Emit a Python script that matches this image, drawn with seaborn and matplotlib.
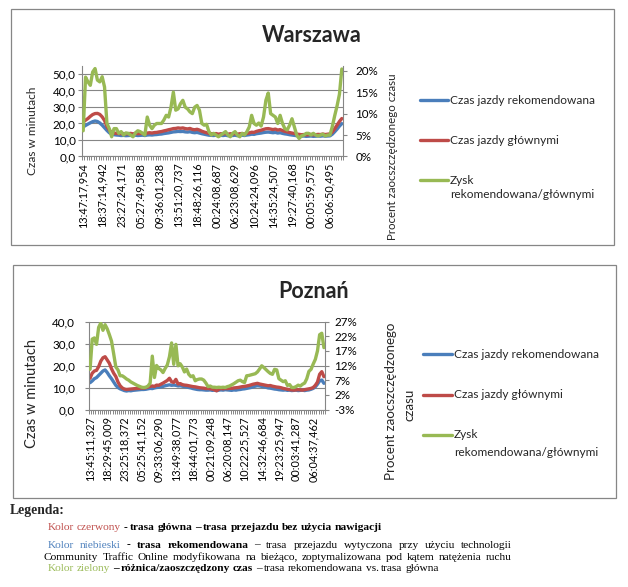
import numpy as np
import pandas as pd
import matplotlib
matplotlib.use("Agg")
import matplotlib.pyplot as plt
import seaborn as sns
from matplotlib.lines import Line2D
from matplotlib.patches import Rectangle

# ---------------- data ----------------
warsaw_labels = ["13:47:17,954", "18:37:14,942", "23:27:24,171", "05:27:49,588",
                 "09:36:01,238", "13:51:20,737", "18:48:26,116", "00:24:08,687",
                 "06:23:08,629", "10:24:24,096", "14:35:24,507", "19:27:40,168",
                 "00:05:59,575", "06:06:50,495"]
poznan_labels = ["13:45:11,327", "18:29:45,009", "23:25:18,372", "05:25:41,152",
                 "09:33:06,290", "13:49:38,077", "18:44:01,773", "00:21:09,248",
                 "06:20:08,147", "10:22:25,527", "14:32:46,684", "19:23:25,947",
                 "00:03:41,287", "06:04:37,462"]

warsaw_blue = [17.9, 18.8, 19.6, 20.4, 21.1, 21.5, 21.2, 20.3, 19.0, 17.4,
               15.8, 14.4, 13.6, 13.2, 13.0, 12.9, 12.7, 12.8, 12.6, 12.7,
               12.8, 12.6, 12.9, 12.7, 12.8, 12.9, 12.7, 13.0, 13.1, 13.0,
               13.2, 13.3, 13.5, 13.6, 13.9, 14.1, 14.3, 14.6, 14.9, 15.0,
               15.2, 15.1, 15.2, 14.9, 14.8, 15.0, 14.6, 14.4, 14.6, 14.2,
               13.8, 13.5, 13.2, 12.9, 12.8, 12.7, 12.9, 12.6, 12.8, 12.7,
               12.9, 12.6, 12.8, 12.7, 12.9, 12.6, 12.8, 12.9, 12.7, 13.0,
               13.2, 13.5, 13.4, 13.8, 14.0, 14.2, 14.5, 14.7, 14.8, 14.6,
               14.4, 14.6, 14.2, 14.4, 14.0, 13.7, 13.5, 13.2, 13.0, 12.8,
               12.6, 12.4, 12.3, 12.4, 12.2, 12.3, 12.4, 12.2, 12.3, 12.4,
               12.3, 12.5, 12.3, 12.4, 12.5, 13.5, 15.0, 16.6, 18.4, 19.9]
warsaw_red = [20.9, 22.0, 23.0, 24.3, 25.4, 26.0, 26.1, 25.5, 24.0, 21.8,
              18.2, 16.0, 14.6, 14.2, 14.0, 13.9, 13.8, 13.9, 13.7, 13.8,
              14.0, 13.7, 14.0, 13.8, 13.9, 14.0, 13.8, 14.2, 14.4, 14.2,
              14.5, 14.6, 14.9, 15.1, 15.5, 15.8, 16.2, 16.5, 16.9, 17.0,
              17.3, 17.1, 17.3, 16.9, 16.7, 17.0, 16.4, 16.2, 16.5, 16.0,
              15.3, 14.8, 14.4, 14.0, 13.8, 13.7, 13.9, 13.5, 13.8, 13.7,
              13.9, 13.5, 13.8, 13.6, 13.9, 13.5, 13.8, 13.9, 13.6, 14.0,
              14.3, 14.7, 14.6, 15.2, 15.6, 15.9, 16.4, 16.8, 16.9, 16.6,
              16.3, 16.6, 16.0, 16.3, 15.7, 15.2, 14.9, 14.5, 14.2, 13.9,
              13.6, 13.4, 13.2, 13.3, 13.1, 13.2, 13.4, 13.1, 13.2, 13.4,
              13.3, 13.6, 13.3, 13.5, 13.7, 14.8, 16.8, 19.0, 21.2, 23.0]
warsaw_green = [6.0, 18.5, 17.4, 16.6, 19.7, 20.5, 17.8, 17.4, 18.6, 16.2,
                7.7, 6.5, 4.6, 6.5, 6.5, 5.4, 5.8, 5.0, 5.5, 5.4,
                5.0, 4.6, 5.5, 6.0, 5.8, 5.4, 5.0, 9.2, 7.3, 6.5,
                7.3, 7.7, 7.7, 7.7, 8.5, 9.6, 9.2, 11.5, 15.0, 10.8,
                11.1, 12.3, 13.1, 11.5, 11.1, 10.4, 10.0, 11.5, 11.9, 10.8,
                7.7, 7.3, 7.5, 5.8, 5.0, 5.4, 5.0, 4.6, 5.0, 5.4,
                5.8, 5.0, 4.6, 5.4, 5.8, 5.0, 4.6, 5.4, 5.0, 5.8,
                6.9, 9.6, 7.7, 7.3, 7.8, 7.1, 9.2, 13.1, 14.8, 10.0,
                9.6, 9.2, 7.7, 9.6, 7.7, 6.5, 6.2, 7.3, 8.8, 6.9,
                5.0, 4.2, 4.8, 5.0, 5.4, 5.4, 5.0, 5.4, 5.0, 4.8,
                5.0, 5.2, 4.8, 5.0, 5.0, 7.0, 9.5, 11.8, 14.5, 20.4]

poznan_blue = [12.2, 13.0, 14.0, 14.5, 15.5, 16.5, 17.5, 18.0, 16.8, 15.3,
               14.0, 12.5, 11.0, 10.0, 9.4, 9.0, 8.6, 8.4, 8.6, 8.5,
               8.7, 8.8, 8.9, 9.0, 9.1, 9.1, 9.2, 9.4, 9.6, 9.5,
               9.8, 10.0, 10.1, 10.3, 10.5, 10.8, 11.0, 11.2, 11.0, 11.1,
               11.0, 10.7, 10.8, 10.6, 10.4, 10.2, 10.0, 9.8, 9.5, 9.3,
               9.1, 9.0, 9.0, 8.9, 8.8, 8.8, 8.9, 8.7, 8.8, 8.6,
               8.8, 8.9, 8.8, 9.0, 8.9, 8.8, 8.7, 8.9, 8.8, 9.0,
               9.1, 9.3, 9.4, 9.6, 9.8, 10.0, 10.3, 10.6, 10.8, 10.7,
               10.5, 10.3, 10.1, 9.8, 9.7, 9.5, 9.3, 9.2, 9.0, 8.9,
               8.8, 8.9, 8.7, 8.8, 8.6, 8.7, 8.8, 8.6, 8.7, 8.8,
               8.6, 8.8, 8.9, 9.2, 9.6, 10.3, 11.5, 13.0, 13.4, 11.9]
poznan_red = [14.2, 16.5, 17.5, 17.8, 19.5, 22.0, 23.5, 24.0, 22.5, 21.0,
              18.5, 16.5, 15.0, 12.5, 10.8, 9.8, 9.3, 9.1, 9.2, 9.3,
              9.4, 9.5, 9.6, 9.6, 9.8, 9.7, 9.9, 10.2, 10.5, 10.7,
              10.5, 11.1, 11.0, 11.5, 12.0, 12.6, 13.2, 14.2, 12.6, 12.3,
              13.7, 11.6, 11.8, 11.3, 11.1, 11.0, 10.8, 10.6, 10.4, 10.3,
              10.1, 9.9, 9.8, 9.7, 9.5, 9.6, 9.4, 9.3, 8.9, 8.5,
              9.2, 9.6, 9.4, 9.6, 9.5, 9.7, 9.6, 9.8, 9.9, 10.0,
              10.2, 10.4, 10.5, 10.7, 10.9, 11.2, 11.5, 11.7, 11.9, 11.6,
              11.4, 11.2, 11.0, 10.8, 10.9, 10.6, 10.4, 10.2, 10.1, 9.9,
              9.6, 9.4, 9.2, 9.0, 8.9, 8.8, 8.9, 9.0, 8.9, 8.8,
              9.0, 9.2, 9.4, 9.6, 10.0, 11.0, 12.5, 16.0, 17.2, 14.9]
poznan_green = [10.7, 21.0, 21.4, 19.2, 25.0, 26.5, 24.0, 25.9, 24.5, 22.5,
                20.3, 16.0, 11.5, 10.5, 8.5, 8.5, 8.0, 7.4, 7.0, 6.4,
                6.0, 5.6, 5.2, 4.9, 4.6, 4.5, 4.6, 5.0, 6.0, 15.2,
                7.9, 12.0, 11.0, 10.5, 9.6, 11.0, 12.2, 15.0, 19.7, 12.4,
                19.2, 11.9, 12.6, 11.5, 9.8, 10.8, 9.0, 8.2, 8.5, 6.8,
                7.2, 7.4, 7.4, 7.0, 6.0, 4.8, 5.0, 4.6, 4.6, 4.5,
                4.6, 4.5, 4.6, 4.5, 4.8, 5.0, 5.4, 5.8, 6.3, 6.8,
                7.0, 6.5, 6.2, 8.5, 8.6, 8.8, 9.0, 9.2, 9.8, 10.8,
                11.9, 11.3, 10.6, 9.9, 9.3, 9.0, 10.7, 10.5, 7.5, 7.0,
                6.5, 6.8, 5.2, 5.5, 4.5, 4.5, 4.8, 5.3, 5.0, 5.6,
                6.0, 7.5, 10.0, 10.7, 12.5, 14.1, 17.0, 22.5, 23.0, 18.1]

series_names = ["Czas jazdy rekomendowana", "Czas jazdy głównymi",
                "Zysk\nrekomendowana/głównymi"]
warsaw_left_ticks = [0, 10, 20, 30, 40, 50]
warsaw_left_labels = ["0,0", "10,0", "20,0", "30,0", "40,0", "50,0"]
warsaw_right_ticks = [0, 5, 10, 15, 20]
poznan_left_ticks = [0, 10, 20, 30, 40]
poznan_left_labels = ["0,0", "10,0", "20,0", "30,0", "40,0"]
poznan_right_ticks = [-3, 2, 7, 12, 17, 22, 27]

# ---------------- style ----------------
sns.set_style("white")
plt.rcParams['font.family'] = ['Lato', 'DejaVu Sans']
SERIF = ['Liberation Serif', 'DejaVu Serif']

W, H = 628, 587
fig = plt.figure(figsize=(W / 100, H / 100), dpi=100)
fig.patch.set_facecolor("white")

BLUE = "#4A7EBB"
RED = "#BE4B48"
GREEN = "#98B954"
GREY = "#868686"
TXT = "#000000"


def fx(x):
    return x / W


def fy(y):
    return 1 - y / H


def chart(box, plot, title, title_xy, labels, blue, red, green,
          lylim, lticks, llabels, rylim, rticks, ylab_xy, ylab_size,
          rlab_parts, rlab_size, leg_x, leg_y, xpad, rpad, lpad):
    x0, y0, x1, y1 = box
    fig.add_artist(Rectangle((fx(x0), fy(y1)), (x1 - x0) / W, (y1 - y0) / H,
                             transform=fig.transFigure, facecolor="white",
                             edgecolor=GREY, lw=0.9, zorder=0))
    px0, py0, px1, py1 = plot
    ax = fig.add_axes([fx(px0), fy(py1), (px1 - px0) / W, (py1 - py0) / H])
    ax.set_facecolor("none")
    n = len(blue)
    df = pd.DataFrame({"i": np.arange(n), "blue": blue, "red": red,
                       "green": np.array(green) / 100.0})
    sns.lineplot(data=df, x="i", y="blue", ax=ax, color=BLUE, lw=2.4)
    sns.lineplot(data=df, x="i", y="red", ax=ax, color=RED, lw=2.4)
    ax.set_xlim(-0.5, n - 0.5)
    ax.set_ylim(*lylim)
    ax.set_yticks(lticks)
    ax.set_yticklabels(llabels)
    ax.grid(False)
    ax.yaxis.grid(True, color=GREY, lw=0.8)
    ax.set_axisbelow(True)
    ax.set_xticks(np.arange(0, n, 8))
    ax.set_xticklabels(labels, rotation=90)
    ax.set_xticks(np.arange(-0.5, n, 1), minor=True)
    ax.tick_params(axis="x", which="major", length=0, pad=xpad, labelsize=7.8,
                   colors=TXT)
    ax.tick_params(axis="x", which="minor", length=3, width=0.7, color=GREY,
                   direction="out", bottom=True)
    ax.tick_params(axis="y", length=3, width=0.8, color=GREY, direction="out",
                   left=True, pad=lpad, labelsize=8.4, labelcolor=TXT)
    for s in ["top", "right"]:
        ax.spines[s].set_visible(False)
    for s in ["left", "bottom"]:
        ax.spines[s].set_color(GREY)
        ax.spines[s].set_linewidth(0.8)
    ax.set_xlabel("")
    ax.set_ylabel("")

    ax2 = ax.twinx()
    sns.lineplot(data=df, x="i", y="green", ax=ax2, color=GREEN, lw=2.4)
    ax2.set_ylim(*rylim)
    ax2.set_yticks([t / 100 for t in rticks])
    ax2.set_yticklabels([f"{t}%" for t in rticks])
    ax2.grid(False)
    ax2.tick_params(axis="y", length=3, width=0.8, color=GREY, direction="out",
                    right=True, pad=rpad, labelsize=8.4, labelcolor=TXT)
    for s in ["top", "left", "bottom"]:
        ax2.spines[s].set_visible(False)
    ax2.spines["right"].set_color(GREY)
    ax2.spines["right"].set_linewidth(0.8)
    ax2.set_ylabel("")
    ax2.set_xlabel("")

    fig.text(fx(title_xy[0]), fy(title_xy[1]), title, fontsize=15.5,
             fontweight="bold", ha="center", va="center")
    fig.text(fx(ylab_xy[0]), fy(ylab_xy[1]), "Czas w minutach",
             fontsize=ylab_size, rotation=90, ha="center", va="center")
    for (tx, ty, s) in rlab_parts:
        fig.text(fx(tx), fy(ty), s, fontsize=rlab_size, rotation=90,
                 ha="center", va="center")

    cols = [BLUE, RED, GREEN]
    for k, c in enumerate(cols):
        yy = leg_y[k]
        fig.add_artist(Line2D([fx(leg_x[0]), fx(leg_x[1])], [fy(yy), fy(yy)],
                              transform=fig.transFigure, color=c, lw=2.4))
    fig.text(fx(leg_x[2]), fy(leg_y[0]), series_names[0], fontsize=8.6,
             va="center", ha="left")
    fig.text(fx(leg_x[2]), fy(leg_y[1]), series_names[1], fontsize=8.6,
             va="center", ha="left")
    z1, z2 = series_names[2].split("\n")
    fig.text(fx(leg_x[2]), fy(leg_y[2]), z1, fontsize=8.6, va="center", ha="left")
    fig.text(fx(leg_x[2]), fy(leg_y[3]), z2, fontsize=8.6, va="center", ha="left")
    return ax, ax2


chart(box=(11, 9, 614, 245), plot=(82, 66, 343, 156.5), title="Warszawa",
      title_xy=(312, 35), labels=warsaw_labels, blue=warsaw_blue,
      red=warsaw_red, green=warsaw_green, lylim=(0, 54.8),
      lticks=warsaw_left_ticks, llabels=warsaw_left_labels,
      rylim=(0, 0.211), rticks=warsaw_right_ticks, ylab_xy=(32, 131),
      ylab_size=8.6, rlab_parts=[(392, 156.5, "Procent zaocszczędzonego czasu")],
      rlab_size=8.3, leg_x=(420, 448, 450), leg_y=(100, 140, 180, 195),
      xpad=4.5, rpad=6, lpad=1.5)

chart(box=(13, 265, 616, 498), plot=(89, 321.5, 325, 409.5), title="Poznań",
      title_xy=(314, 292), labels=poznan_labels, blue=poznan_blue,
      red=poznan_red, green=poznan_green, lylim=(0, 40),
      lticks=poznan_left_ticks, llabels=poznan_left_labels,
      rylim=(-0.03, 0.27), rticks=poznan_right_ticks, ylab_xy=(32, 393),
      ylab_size=10.5,
      rlab_parts=[(391, 401, "Procent zaocszczędzonego"), (410, 405, "czasu")],
      rlab_size=9.6, leg_x=(423, 452, 454), leg_y=(354, 395, 435, 452),
      xpad=5, rpad=3.5, lpad=7)

# ---------------- bottom legend text ----------------
renderer = fig.canvas.get_renderer()
TSIZE = 8.2


def wwidth(s, weight):
    t = fig.text(0, 0, s, fontsize=TSIZE, fontweight=weight, family=SERIF)
    w = t.get_window_extent(renderer).width
    t.remove()
    return w


space_w = wwidth("a a", "normal") - wwidth("aa", "normal")


def place_line(tokens, x0, y, x_end=None, gap_scale=1.0):
    widths = [wwidth(w, wt) for (w, c, wt) in tokens]
    if x_end is not None and len(tokens) > 1:
        gap = max((x_end - x0 - sum(widths)) / (len(tokens) - 1), 1.0)
    else:
        gap = space_w * gap_scale
    x = x0
    for (w, c, wt), wd in zip(tokens, widths):
        fig.text(fx(x), fy(y), w, color=c, fontweight=wt, fontsize=TSIZE,
                 family=SERIF, va="baseline", ha="left")
        x += wd + gap


RED_T = "#C0504D"
BLUE_T = "#4F81BD"
GREEN_T = "#9BBB59"
K = "#000000"

fig.text(fx(10), fy(514), "Legenda:", fontsize=9.8, fontweight="bold",
         family=SERIF, va="baseline")

line1 = [("Kolor", RED_T, "normal"), ("czerwony", RED_T, "normal")] + \
        [(w, K, "bold") for w in "- trasa główna – trasa przejazdu bez użycia nawigacji".split()]
line2 = [("Kolor", BLUE_T, "normal"), ("niebieski", BLUE_T, "normal"),
         ("-", K, "bold"), ("trasa", K, "bold"), ("rekomendowana", K, "bold")] + \
        [(w, K, "normal") for w in "– trasa przejazdu wytyczona przy użyciu technologii".split()]
line3 = [(w, K, "normal") for w in
         "Community Traffic Online modyfikowana na bieżąco, zoptymalizowana pod kątem natężenia ruchu".split()]
line4 = [("Kolor", GREEN_T, "normal"), ("zielony", GREEN_T, "normal"),
         ("–", K, "bold"), ("różnica/zaoszczędzony", K, "bold"), ("czas", K, "bold")] + \
        [(w, K, "normal") for w in "– trasa rekomendowana vs. trasa główna".split()]

place_line(line1, 48, 530, gap_scale=0.9)
place_line(line2, 48, 547.5, x_end=512)
place_line(line3, 44, 559.5, x_end=512)
place_line(line4, 48, 571, gap_scale=0.9)

fig.savefig("out.png", dpi=100, facecolor="white")
